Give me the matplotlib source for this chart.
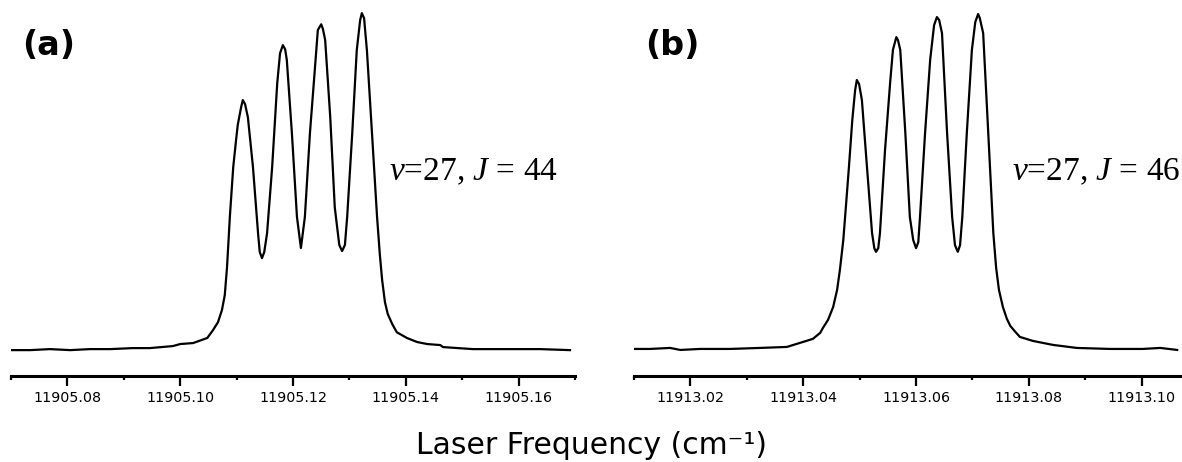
import matplotlib
matplotlib.use("Agg")
import matplotlib.pyplot as plt
import matplotlib.ticker as ticker

plt.rcParams['font.family'] = ['DejaVu Sans']
plt.rcParams['mathtext.fontset'] = 'custom'
plt.rcParams['mathtext.rm'] = 'Liberation Serif'
plt.rcParams['mathtext.it'] = 'Liberation Serif:italic'

# panel (a): v=27, J=44
freq_a = [11905.0700, 11905.0734, 11905.0769, 11905.0805, 11905.0840, 11905.0876,
          11905.0916, 11905.0946, 11905.0987, 11905.1000, 11905.1023, 11905.1048,
          11905.1058, 11905.1067, 11905.1074, 11905.1079, 11905.1083, 11905.1088,
          11905.1094, 11905.1099, 11905.1102, 11905.1108, 11905.1111, 11905.1115,
          11905.1120, 11905.1129, 11905.1138, 11905.1141, 11905.1145, 11905.1149,
          11905.1154, 11905.1163, 11905.1172, 11905.1177, 11905.1182, 11905.1186,
          11905.1189, 11905.1198, 11905.1207, 11905.1214, 11905.1221, 11905.1230,
          11905.1239, 11905.1244, 11905.1250, 11905.1253, 11905.1257, 11905.1266,
          11905.1274, 11905.1282, 11905.1287, 11905.1292, 11905.1296, 11905.1305,
          11905.1313, 11905.1319, 11905.1322, 11905.1326, 11905.1331, 11905.1340,
          11905.1349, 11905.1354, 11905.1358, 11905.1363, 11905.1368, 11905.1376,
          11905.1384, 11905.1402, 11905.1420, 11905.1438, 11905.1461, 11905.1466,
          11905.1519, 11905.1579, 11905.1638, 11905.1691]
sig_a = [0.000, 0.000, 0.003, 0.000, 0.003, 0.003,
         0.006, 0.006, 0.012, 0.018, 0.021, 0.036,
         0.059, 0.083, 0.119, 0.163, 0.246, 0.395,
         0.543, 0.623, 0.668, 0.721, 0.742, 0.730,
         0.691, 0.543, 0.347, 0.291, 0.273, 0.291,
         0.347, 0.543, 0.792, 0.881, 0.905, 0.893,
         0.861, 0.644, 0.395, 0.303, 0.395, 0.644,
         0.840, 0.950, 0.967, 0.953, 0.920, 0.691,
         0.424, 0.312, 0.294, 0.312, 0.395, 0.644,
         0.890, 0.979, 1.000, 0.985, 0.890, 0.644,
         0.395, 0.282, 0.208, 0.142, 0.107, 0.077,
         0.053, 0.036, 0.024, 0.018, 0.015, 0.009,
         0.003, 0.003, 0.003, 0.000]

# panel (b): v=27, J=46
freq_b = [11913.0100, 11913.0128, 11913.0164, 11913.0182, 11913.0217, 11913.0270,
          11913.0323, 11913.0371, 11913.0394, 11913.0417, 11913.0430, 11913.0435,
          11913.0444, 11913.0453, 11913.0460, 11913.0465, 11913.0471, 11913.0476,
          11913.0481, 11913.0487, 11913.0492, 11913.0495, 11913.0499, 11913.0504,
          11913.0513, 11913.0522, 11913.0526, 11913.0529, 11913.0533, 11913.0536,
          11913.0545, 11913.0554, 11913.0559, 11913.0565, 11913.0568, 11913.0572,
          11913.0581, 11913.0589, 11913.0595, 11913.0600, 11913.0604, 11913.0607,
          11913.0616, 11913.0625, 11913.0632, 11913.0637, 11913.0641, 11913.0646,
          11913.0655, 11913.0664, 11913.0669, 11913.0674, 11913.0678, 11913.0682,
          11913.0690, 11913.0699, 11913.0705, 11913.0710, 11913.0713, 11913.0719,
          11913.0728, 11913.0737, 11913.0742, 11913.0747, 11913.0754, 11913.0761,
          11913.0767, 11913.0776, 11913.0784, 11913.0807, 11913.0843, 11913.0885,
          11913.0944, 11913.1002, 11913.1033, 11913.1063]
sig_b = [0.000, 0.000, 0.003, -0.003, 0.000, 0.000,
         0.003, 0.006, 0.018, 0.030, 0.048, 0.063,
         0.087, 0.125, 0.176, 0.236, 0.325, 0.433,
         0.543, 0.684, 0.773, 0.803, 0.791, 0.743,
         0.543, 0.346, 0.301, 0.290, 0.301, 0.346,
         0.594, 0.794, 0.893, 0.931, 0.922, 0.893,
         0.645, 0.394, 0.325, 0.301, 0.319, 0.394,
         0.645, 0.863, 0.967, 0.991, 0.982, 0.943,
         0.645, 0.394, 0.310, 0.290, 0.310, 0.394,
         0.645, 0.893, 0.976, 1.000, 0.988, 0.943,
         0.645, 0.346, 0.242, 0.176, 0.125, 0.090,
         0.069, 0.051, 0.036, 0.024, 0.012, 0.003,
         0.000, 0.000, 0.003, -0.003]

panels = [
    (freq_a, sig_a, (11905.07, 11905.17), (-0.077, 1.039), '(a)', r'$v$=27, $J$ = 44', 0.0093),
    (freq_b, sig_b, (11913.01, 11913.11), (-0.081, 1.042), '(b)', r'$v$=27, $J$ = 46', 0.5364),
]

fig = plt.figure(figsize=(11.82, 4.62), dpi=100)

for fr, sg, xl, yl, tag, lab, left in panels:
    ax = fig.add_axes([left, 0.186, 0.4772, 0.814])
    ax.plot(fr, sg, c='black', lw=1.6)
    ax.set_xlim(xl)
    ax.set_ylim(yl)
    for s in ['left', 'right', 'top']:
        ax.spines[s].set_visible(False)
    ax.spines['bottom'].set_linewidth(2.2)
    ax.set_yticks([])
    ax.xaxis.set_major_locator(ticker.MultipleLocator(0.02))
    ax.xaxis.set_minor_locator(ticker.MultipleLocator(0.01))
    ax.xaxis.set_major_formatter(ticker.FormatStrFormatter('%.2f'))
    ax.tick_params(axis='x', which='major', length=7, width=1.6, pad=4, labelsize=10.3)
    ax.tick_params(axis='x', which='minor', length=3, width=1.6)
    ax.patch.set_visible(False)
    ax.text(0.02, 0.878, tag, transform=ax.transAxes, fontsize=24, fontweight='bold',
            ha='left', va='center')
    ax.text(0.67, 0.52, lab, transform=ax.transAxes, fontsize=24,
            family='Liberation Serif', ha='left', va='baseline')

fig.text(0.5, 0.035, 'Laser Frequency (cm\u207b\u00b9)', ha='center', va='center', fontsize=21.5)

fig.savefig('out.png', dpi=100)
